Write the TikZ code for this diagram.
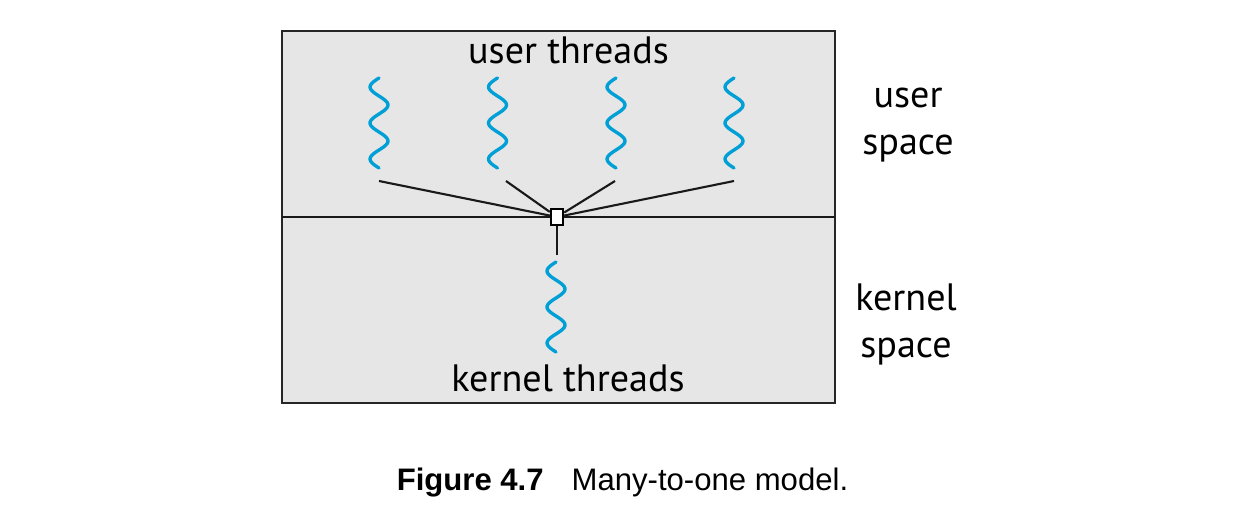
\documentclass[tikz,border=0pt]{standalone}
\usepackage{fontspec}
\setmainfont{PT Sans}
\newfontfamily\capfont{Liberation Sans}
\usetikzlibrary{positioning}
\definecolor{wavecol}{RGB}{0,160,214}
\definecolor{panel}{RGB}{230,230,230}

\begin{document}
\begin{tikzpicture}[x=0.02cm, y=-0.02cm,
  thread/.style={draw=wavecol, line width=1.9pt, line cap=round},
  link/.style={draw=black!90, line width=1.2pt},
  lbl/.style={font=\fontsize{21.7}{26.7}\selectfont, inner sep=0pt, anchor=base},
  lwp/.style={draw, fill=white, line width=1.1pt, minimum width=0.25cm,
              minimum height=0.31cm, inner sep=0pt}]

  \useasboundingbox (0,0) rectangle (1234,522);

  \draw[fill=panel, draw=black!85, line width=1pt] (282,31) rectangle (835,403);
  \draw[link] (282,217) -- (835,217);

  \foreach \cx/\cy in {379/78, 497.5/78, 616/78, 734/78, 556/262}
    \draw[thread] plot[domain=0:90, samples=60, smooth] ({\cx-9*sin(10*\x)}, {\cy+\x});

  \node[lwp] (lwp) at (557,217) {};
  \coordinate (u1) at (379,181);
  \coordinate (u2) at (506,181);
  \coordinate (u3) at (615,181);
  \coordinate (u4) at (734,181);
  \coordinate (k1) at (557,255);
  \foreach \u in {u1,u2,u3,u4}
    \draw[link] (\u) -- (lwp);
  \draw[link] (lwp) -- (k1);

  \node[lbl] (uthr) at (568.5,63) {user threads};
  \node[lbl] (kthr) at (568,391.7) {kernel threads};
  \node[lbl, align=center] (uspace) at (908,154) {user\\space};
  \node[lbl, align=center] (kspace) at (906,357) {kernel\\space};

  \node[font=\capfont\fontsize{17.7}{21}\selectfont, anchor=base, inner sep=0pt] (cap)
    at (622.5,490) {\textbf{Figure 4.7}\hspace{0.9em}Many-to-one model.};

\end{tikzpicture}
\end{document}
